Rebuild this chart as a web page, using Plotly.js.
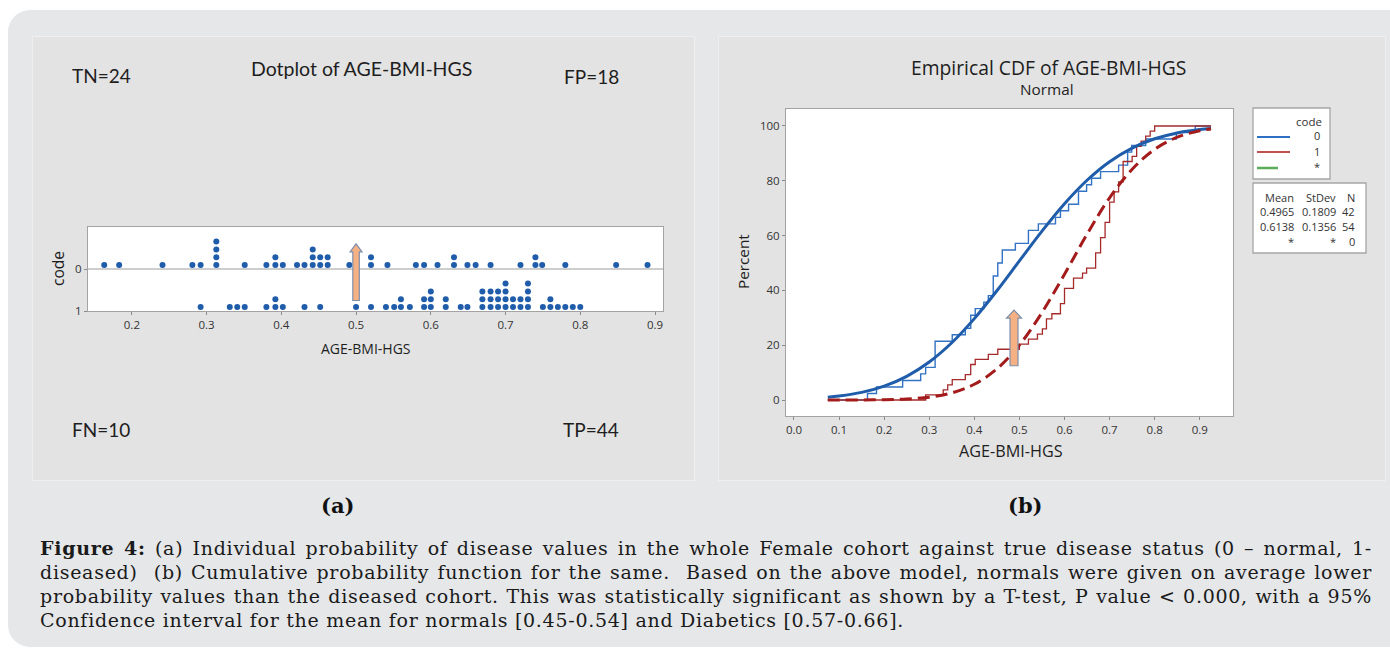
<!DOCTYPE html>
<html><head><meta charset="utf-8">
<script src="https://cdn.plot.ly/plotly-3.0.1.min.js"></script>
<style>
html,body{margin:0;padding:0;background:#fff;width:1390px;height:648px;overflow:hidden;}
#wrap{position:absolute;left:8px;top:10px;width:1420px;height:637px;background:#e5e7e9;border-radius:22px;}
.panel{position:absolute;background:#e3e3e3;border:1px solid #efefef;box-sizing:border-box;}
#pa{left:32px;top:36px;width:663px;height:445px;}
#pb{left:718px;top:36px;width:668px;height:445px;}
#chart{position:absolute;left:0;top:0;width:1390px;height:648px;}
#cap{position:absolute;left:40px;top:536px;width:1332px;font-family:"DejaVu Serif",serif;font-size:19px;letter-spacing:0.72px;line-height:24px;color:#1a1a1a;}
#cap div{text-align:justify;text-align-last:justify;white-space:nowrap;}
#cap div.last{text-align:left;text-align-last:left;}
</style></head>
<body>
<div id="wrap"></div>
<div class="panel" id="pa"></div>
<div class="panel" id="pb"></div>
<div id="chart"></div>
<div id="cap">
<div><b>Figure 4:</b> (a) Individual probability of disease values in the whole Female cohort against true disease status (0 – normal, 1-</div>
<div>diseased)&nbsp; (b) Cumulative probability function for the same.&nbsp; Based on the above model, normals were given on average lower</div>
<div>probability values than the diseased cohort. This was statistically significant as shown by a T-test, P value &lt; 0.000, with a 95%</div>
<div class="last">Confidence interval for the mean for normals [0.45-0.54] and Diabetics [0.57-0.66].</div>
</div>
<script>
// ---------- data ----------
const code0Bins   = [0.163,0.183,0.241,0.281,0.292,0.313,0.351,0.380,0.392,0.402,0.421,0.431,0.442,0.452,0.462,0.491,0.520,0.542,0.580,0.591,0.609,0.631,0.649,0.660,0.680,0.720,0.740,0.749,0.780,0.848,0.890];
const code0Counts = [1,1,1,1,1,4,1,1,2,1,1,1,3,2,2,1,2,1,1,1,1,2,1,1,1,1,2,1,1,1,1];
const code1Bins   = [0.292,0.331,0.341,0.351,0.380,0.392,0.402,0.431,0.452,0.500,0.520,0.540,0.551,0.560,0.572,0.591,0.600,0.620,0.640,0.649,0.669,0.680,0.690,0.700,0.710,0.720,0.730,0.750,0.760,0.770,0.780,0.790,0.800];
const code1Counts = [1,1,1,1,1,2,1,1,1,1,1,1,1,2,1,2,3,2,1,1,3,3,3,4,2,2,4,1,2,1,1,1,1];
const dotTicks = [0.2,0.3,0.4,0.5,0.6,0.7,0.8,0.9];
const cdfXTicks = [0.0,0.1,0.2,0.3,0.4,0.5,0.6,0.7,0.8,0.9];
const cdfYTicks = [0,20,40,60,80,100];
// fitted normal CDF curves (percent)
const fitX    = [0.075,0.10,0.15,0.20,0.25,0.30,0.35,0.40,0.45,0.50,0.55,0.60,0.65,0.70,0.75,0.80,0.85,0.90,0.925];
const fit0Pct = [0.99,1.42,2.77,5.06,8.65,13.87,20.9,29.7,39.86,50.77,61.63,71.64,80.2,86.97,91.94,95.33,97.47,98.71,99.11];
const fit1Pct = [0.0,0.01,0.03,0.11,0.36,1.03,2.59,5.74,11.35,20.07,31.9,45.9,60.5,73.8,84.2,91.5,95.9,98.26,98.91];
const statsHeader = ['Mean','StDev','N'];
const statsRows = [['0.4965','0.1809','42'],['0.6138','0.1356','54'],['*','*','0']];
const legendCodes = ['0','1','*'];
const cornerLabels = ['TN=24','FP=18','FN=10','TP=44'];

// ---------- helpers ----------
const W=1390,H=648;
const PX=x=>x/W, PY=y=>1-y/H;
const BLUE='#1f5caa', RED='#a31b1b';

function stack(bins,counts,code){
  const xs=[],ys=[];
  bins.forEach((b,i)=>{for(let k=0;k<counts[i];k++){xs.push(b);ys.push(code-0.095-k*0.186);}});
  return {xs,ys};
}
function ecdf(bins,counts,x0,x1){
  const n=counts.reduce((a,b)=>a+b,0);
  const xs=[x0],ys=[0];let c=0;
  bins.forEach((b,i)=>{c+=counts[i];xs.push(b);ys.push(100*c/n);});
  xs.push(x1);ys.push(100);
  return {xs,ys};
}
function arrowPath(cx,yTip,yBot,headH,headW,shaftW,xPerPx,yUpPerPx){
  const hb=yTip-headH*yUpPerPx;
  const hw=headW/2*xPerPx, sw=shaftW/2*xPerPx;
  return `M${cx-sw},${yBot} L${cx-sw},${hb} L${cx-hw},${hb} L${cx},${yTip} L${cx+hw},${hb} L${cx+sw},${hb} L${cx+sw},${yBot} Z`;
}

const d0=stack(code0Bins,code0Counts,0), d1=stack(code1Bins,code1Counts,1);
const e0=ecdf(code0Bins,code0Counts,fitX[0],fitX[fitX.length-1]);
const e1=ecdf(code1Bins,code1Counts,fitX[0],fitX[fitX.length-1]);

const traces=[
  {x:d0.xs.concat(d1.xs),y:d0.ys.concat(d1.ys),xaxis:'x',yaxis:'y',mode:'markers',type:'scatter',
   marker:{size:6,color:BLUE,symbol:'circle'},hoverinfo:'x',showlegend:false},
  {x:e0.xs,y:e0.ys,xaxis:'x2',yaxis:'y2',mode:'lines',line:{shape:'hv',color:'#3273c4',width:1.4},showlegend:false},
  {x:e1.xs,y:e1.ys,xaxis:'x2',yaxis:'y2',mode:'lines',line:{shape:'hv',color:'#a52a2a',width:1.3},showlegend:false},
  {x:fitX,y:fit0Pct,xaxis:'x2',yaxis:'y2',mode:'lines',line:{shape:'spline',color:BLUE,width:3},showlegend:false},
  {x:fitX,y:fit1Pct,xaxis:'x2',yaxis:'y2',mode:'lines',line:{shape:'spline',color:RED,width:3,dash:'12px,6px'},showlegend:false}
];

const tickFont={family:'Open Sans',size:11.5,color:'#333'};
const axBase={showgrid:false,zeroline:false,showline:true,mirror:true,linecolor:'#a3a3a3',linewidth:1,
  ticks:'outside',ticklen:3,tickcolor:'#8a8a8a',tickfont:tickFont,fixedrange:true};

const layout={
  width:W,height:H,margin:{l:0,r:0,t:0,b:0},
  paper_bgcolor:'rgba(0,0,0,0)',plot_bgcolor:'#ffffff',showlegend:false,
  xaxis:Object.assign({},axBase,{domain:[PX(88),PX(663)],range:[0.1413,0.9107],tickvals:dotTicks,tickformat:'.1f',anchor:'y'}),
  yaxis:Object.assign({},axBase,{domain:[PY(311),PY(227)],range:[1,-1],tickvals:[0,1],anchor:'x',ticklen:3}),
  xaxis2:Object.assign({},axBase,{domain:[PX(786),PX(1233)],range:[-0.0177,0.9737],tickvals:cdfXTicks,tickformat:'.1f',anchor:'y2'}),
  yaxis2:Object.assign({},axBase,{domain:[PY(416),PY(109)],range:[-5.84,106.2],tickvals:cdfYTicks,anchor:'x2'}),
  shapes:[],annotations:[]
};

// divider at code 0
layout.shapes.push({type:'line',xref:'x domain',yref:'y',x0:0,x1:1,y0:0,y1:0,line:{color:'#9c9c9c',width:1}});
// arrows
layout.shapes.push({type:'path',xref:'x',yref:'y',layer:'above',
  path:arrowPath(0.5,-0.60,0.75,8,12,6.5,1/750,-1/42),fillcolor:'#f5b183',line:{color:'#7d8fab',width:1.2}});
layout.shapes.push({type:'path',xref:'x2',yref:'y2',layer:'above',
  path:arrowPath(0.488,32.8,12.5,8,15,8,1/451,1/2.74),fillcolor:'#f5b183',line:{color:'#7d8fab',width:1.2}});

// legend box and stats box
const rect=(x0,y0,x1,y1)=>({type:'rect',xref:'paper',yref:'paper',x0:PX(x0),x1:PX(x1),y0:PY(y1),y1:PY(y0),fillcolor:'#ffffff',line:{color:'#a6a6a6',width:1.3}});
layout.shapes.push(rect(1253,108,1330,179));
layout.shapes.push(rect(1253,183,1366,253));
const lline=(x0,x1,y,c,w)=>({type:'line',xref:'paper',yref:'paper',x0:PX(x0),x1:PX(x1),y0:PY(y),y1:PY(y),line:{color:c,width:w}});
layout.shapes.push(lline(1257,1290,137,'#2f6fc4',2));
layout.shapes.push(lline(1257,1290,152,'#c0504d',2));
layout.shapes.push(lline(1257,1278,168,'#5aab5a',2.5));

function ann(text,x,y,size,opts){
  return Object.assign({text:text,xref:'paper',yref:'paper',x:PX(x),y:PY(y),xanchor:'center',yanchor:'middle',
    showarrow:false,font:{family:'Open Sans',size:size,color:'#1e1e1e'}},opts||{});
}
const A=layout.annotations;
// panel a texts
A.push(ann('Dotplot of AGE-BMI-HGS',361,68,19.5,{font:{family:'Lato',size:19.5,color:'#1e1e1e'}}));
const cornerPos=[[101,76],[591,77],[101,430],[591,430]];
cornerLabels.forEach((t,i)=>A.push(ann(t,cornerPos[i][0],cornerPos[i][1],19,{font:{family:'Lato',size:19,color:'#1e1e1e'}})));
A.push(ann('AGE-BMI-HGS',366,348,14));
A.push(ann('code',58,269,15.5,{textangle:-90}));
// panel b texts
A.push(ann('Empirical CDF of AGE-BMI-HGS',1048,67,19.3));
A.push(ann('Normal',1047,89,15.3));
A.push(ann('Percent',743,262,15.3,{textangle:-90}));
A.push(ann('AGE-BMI-HGS',1011,451,16.2));
// sub labels
A.push(ann('<b>(a)</b>',337,505,21,{font:{family:'DejaVu Serif',size:21,color:'#111'}}));
A.push(ann('<b>(b)</b>',1025,505,21,{font:{family:'DejaVu Serif',size:21,color:'#111'}}));
// legend texts
const small=(t,x,y,s)=>ann(t,x,y,s||10,{xanchor:'right',font:{family:'Open Sans',size:s||10,color:'#333'}});
A.push(small('code',1324,121,11.5));
const legY=[135,151,167];
legendCodes.forEach((t,i)=>A.push(small(t,1322,legY[i],11)));
// stats
const colX=[1296,1338,1357];
const rowY=[197,211,226,241];
statsHeader.forEach((t,j)=>A.push(small(t,colX[j],rowY[0],11)));
statsRows.forEach((r,i)=>r.forEach((t,j)=>A.push(small(t,colX[j],rowY[i+1],11))));

Plotly.newPlot('chart',traces,layout,{staticPlot:true,displayModeBar:false});
</script>
</body></html>
